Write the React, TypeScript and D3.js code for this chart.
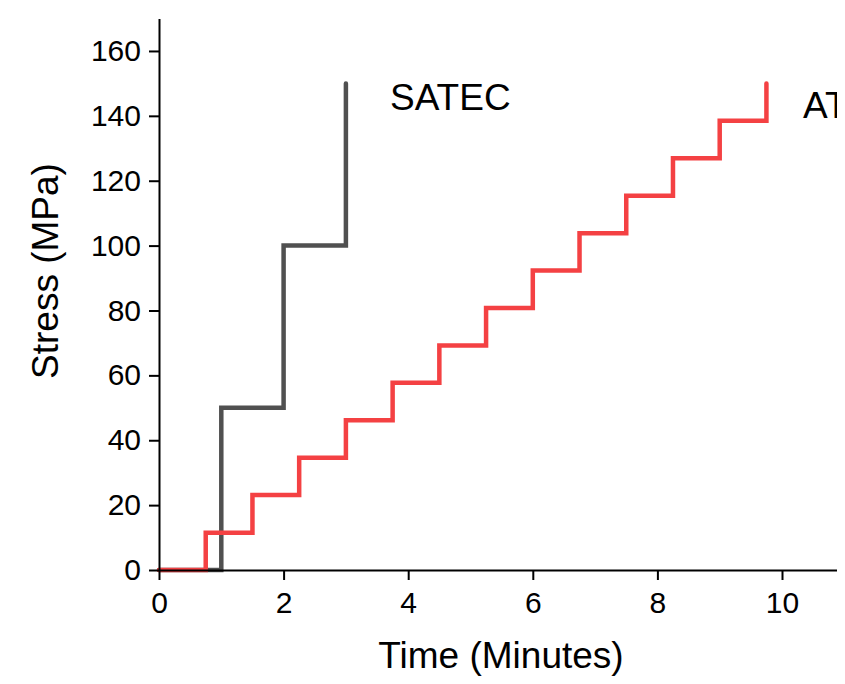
import React, { useEffect, useRef } from 'react';
import * as d3 from 'd3';

// step points (time in minutes, stress in MPa)
const satecTime = [0, 1, 1, 2, 2, 3, 3];
const satecStress = [0, 0, 50, 50, 100, 100, 150];

const atmTime = [0, 0.75, 1.5, 2.25, 3, 3.75, 4.5, 5.25, 6, 6.75, 7.5, 8.25, 9, 9.75];
const atmStress = [0, 11.5, 23.1, 34.6, 46.2, 57.7, 69.2, 80.8, 92.3, 103.8, 115.4, 126.9, 138.5, 150];

const xTicks = [0, 2, 4, 6, 8, 10];
const yTicks = [0, 20, 40, 60, 80, 100, 120, 140, 160];

const W = 837, H = 676;
const FONT = 'Liberation Sans, Arial, sans-serif';

function stepPoints(t: number[], s: number[]): [number, number][] {
  // horizontal then vertical at each time
  const pts: [number, number][] = [];
  for (let i = 0; i < t.length; i++) {
    if (i > 0) pts.push([t[i], s[i - 1]]);
    pts.push([t[i], s[i]]);
  }
  return pts;
}

export default function App() {
  const ref = useRef<SVGGElement>(null);

  useEffect(() => {
    const g = d3.select(ref.current);
    g.selectAll('*').remove();

    const x = d3.scaleLinear().domain([0, 11.2]).range([151, 151 + 11.2 * 62.3]);
    const y = d3.scaleLinear().domain([0, 170]).range([562, 562 - 170 * 3.244]);

    const line = d3.line<[number, number]>()
      .x(d => x(d[0]))
      .y(d => y(d[1]));

    const satec: [number, number][] = satecTime.map((t, i) => [t, satecStress[i]]);
    const atm = stepPoints(atmTime, atmStress);

    g.append('path')
      .attr('d', line(satec))
      .attr('fill', 'none')
      .attr('stroke', '#505050')
      .attr('stroke-width', 4.5)
      .attr('stroke-linecap', 'round');

    g.append('path')
      .attr('d', line(atm))
      .attr('fill', 'none')
      .attr('stroke', '#f44143')
      .attr('stroke-width', 4.5)
      .attr('stroke-linecap', 'round');

    // minor ticks
    const xMinor = d3.axisBottom(x).tickValues(d3.range(1, 12, 2)).tickSize(5).tickFormat(() => '');
    const yMinor = d3.axisLeft(y).tickValues(d3.range(10, 171, 20)).tickSize(5).tickFormat(() => '');

    const xAxis = d3.axisBottom(x).tickValues(xTicks).tickSize(10).tickSizeOuter(0).tickPadding(12)
      .tickFormat(d3.format('d'));
    const yAxis = d3.axisLeft(y).tickValues(yTicks).tickSize(10).tickSizeOuter(0).tickPadding(8)
      .tickFormat(d3.format('d'));

    const gx = g.append('g').attr('transform', `translate(0,${y(0)})`);
    gx.call(xMinor);
    gx.call(xAxis);
    const gy = g.append('g').attr('transform', `translate(${x(0)},0)`);
    gy.call(yMinor);
    gy.call(yAxis);

    [gx, gy].forEach(a => {
      a.selectAll('path.domain').attr('stroke', '#000').attr('stroke-width', 2);
      a.selectAll('.tick line').attr('stroke', '#000').attr('stroke-width', 2);
      a.selectAll('.tick text')
        .attr('fill', '#000')
        .style('font-family', FONT)
        .style('font-size', '30px');
    });

    g.append('text')
      .attr('x', 382)
      .attr('y', 102)
      .style('font-family', FONT)
      .style('font-size', '37px')
      .attr('fill', '#000')
      .text('SATEC');

    // cut off by the right edge, as in the source picture
    g.append('text')
      .attr('x', 795)
      .attr('y', 110)
      .style('font-family', FONT)
      .style('font-size', '37px')
      .attr('fill', '#000')
      .text('ATM');

    g.append('text')
      .attr('x', 493)
      .attr('y', 660)
      .attr('text-anchor', 'middle')
      .style('font-family', FONT)
      .style('font-size', '37px')
      .attr('fill', '#000')
      .text('Time (Minutes)');

    g.append('text')
      .attr('transform', `translate(50,263) rotate(-90)`)
      .attr('text-anchor', 'middle')
      .style('font-family', FONT)
      .style('font-size', '37px')
      .attr('fill', '#000')
      .text('Stress (MPa)');
  }, []);

  return (
    <svg width={W} height={H} style={{ display: 'block' }}>
      <rect width={W} height={H} fill="#fff" />
      <g ref={ref} />
    </svg>
  );
}
